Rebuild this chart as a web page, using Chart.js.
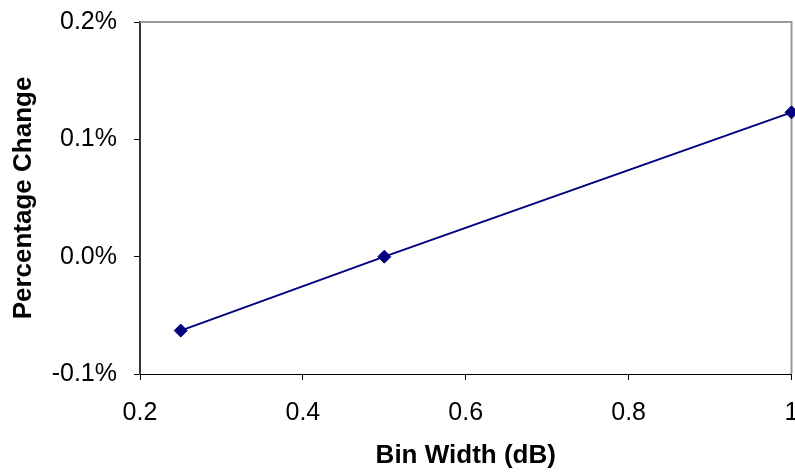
<!DOCTYPE html>
<html>
<head>
<meta charset="utf-8">
<script src="https://cdn.jsdelivr.net/npm/chart.js@4"></script>
<style>
  html, body { margin: 0; padding: 0; background: #fff; overflow: hidden; }
  /* the "1" label is cut by the right edge in the original */
  #wrap { width: 795px; height: 473px; overflow: hidden; }
</style>
</head>
<body>
<div id="wrap"><canvas id="chart" width="799" height="473"></canvas></div>
<script>
// values
const binWidths = [0.25, 0.5, 1];
const percentChange = [-0.063, 0.0, 0.123];
const xTitle = "Bin Width (dB)";
const yTitle = "Percentage Change";

const FONT = "'Liberation Sans', Arial, sans-serif";

// gray frame on the top and right of the plot area (Excel style)
const frame = {
    id: "frame",
    beforeDatasetsDraw(chart) {
        const { ctx, chartArea: a } = chart;
        ctx.save();
        ctx.strokeStyle = "#999999";
        ctx.lineWidth = 2;
        ctx.beginPath();
        ctx.moveTo(a.left, a.top);
        ctx.lineTo(a.right, a.top);
        ctx.lineTo(a.right, a.bottom);
        ctx.stroke();
        ctx.restore();
    }
};

new Chart(document.getElementById("chart"), {
    type: "line",
    data: {
        datasets: [{
            data: binWidths.map((x, i) => ({ x: x, y: percentChange[i] })),
            borderColor: "#000080",
            backgroundColor: "#000080",
            borderWidth: 2,
            pointStyle: "rectRot",
            pointRadius: 6.5,
            pointBorderWidth: 1,
            pointBorderColor: "#000080",
            pointBackgroundColor: "#000080",
            tension: 0,
            clip: false
        }]
    },
    options: {
        responsive: false,
        animation: false,
        layout: { padding: { top: 22, right: 0, left: 0, bottom: 0 } },
        plugins: { legend: { display: false }, tooltip: { enabled: false } },
        scales: {
            x: {
                type: "linear",
                min: 0.2,
                max: 1,
                afterFit(scale) {
                    scale.height = 99;
                    scale.paddingLeft = 0;
                    scale.paddingRight = 0;
                },
                ticks: {
                    stepSize: 0.2,
                    color: "#000",
                    padding: 18,
                    maxRotation: 0,
                    font: { family: FONT, size: 25 },
                    callback: v => String(Number(v.toFixed(1)))
                },
                grid: { drawOnChartArea: false, tickLength: 6, color: "#000", lineWidth: 1 },
                border: { color: "#000", width: 1 },
                title: {
                    display: true,
                    text: xTitle,
                    color: "#000",
                    font: { family: FONT, size: 26, weight: "bold" },
                    padding: { top: 0, bottom: 2 }
                }
            },
            y: {
                min: -0.1,
                max: 0.2,
                afterFit(scale) {
                    scale.width = 140;
                    scale.paddingTop = 0;
                    scale.paddingBottom = 0;
                },
                ticks: {
                    stepSize: 0.1,
                    color: "#000",
                    padding: 17,
                    font: { family: FONT, size: 25 },
                    callback: v => (Math.abs(v) < 1e-9 ? 0 : v).toFixed(1) + "%"
                },
                grid: { drawOnChartArea: false, tickLength: 6, color: "#000", lineWidth: 1 },
                border: { color: "#333", width: 2 },
                title: {
                    display: true,
                    text: yTitle,
                    color: "#000",
                    font: { family: FONT, size: 26, weight: "bold" },
                    padding: { top: 8, bottom: 0 }
                }
            }
        }
    },
    plugins: [frame]
});
</script>
</body>
</html>
